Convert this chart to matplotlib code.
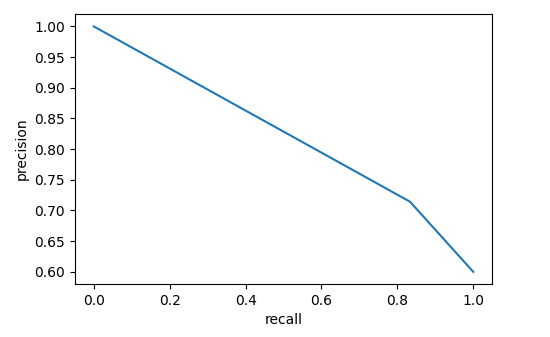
import matplotlib
matplotlib.use("Agg")
import matplotlib.pyplot as plt

# precision-recall curve points
recall = [0.0, 5 / 6, 1.0]
precision = [1.0, 5 / 7, 0.6]

fig = plt.figure(figsize=(5.5, 3.37), dpi=100)
ax = fig.add_axes([0.136, 0.157, 0.759, 0.801])
ax.plot(recall, precision, color="#1f77b4")
ax.set_xlabel("recall")
ax.set_ylabel("precision")
fig.savefig("out.png", dpi=100)
